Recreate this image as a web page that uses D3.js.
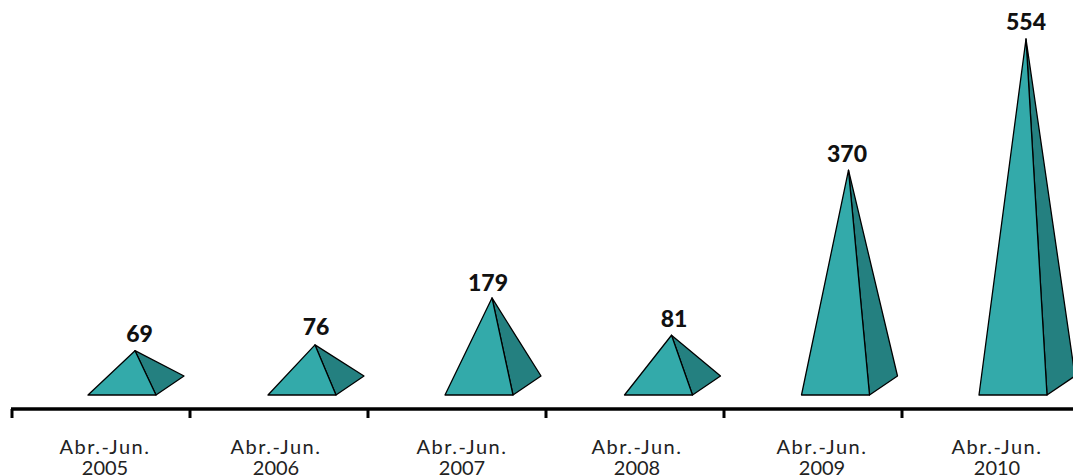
<!DOCTYPE html>
<html lang="en">
<head>
<meta charset="UTF-8">
<title>Abr.-Jun. 2005-2010</title>
<script src="https://d3js.org/d3.v7.min.js"></script>
<style>
    html, body { margin: 0; padding: 0; background: #fff; }
    svg { display: block; }
    text { font-family: Lato, "Open Sans", sans-serif; }
    .value { font-size: 23px; font-weight: 900; fill: #111; text-anchor: middle; }
    .tick text { font-size: 20px; fill: #222; }
    .tick .period { letter-spacing: 1.5px; }
    .front { fill: #33aaaa; stroke: #000; stroke-width: 1.3; stroke-linejoin: round; }
    .side { fill: #248080; stroke: #000; stroke-width: 1.3; stroke-linejoin: round; }
</style>
</head>
<body>
<div id="container"></div>
<script>
    // data
    const periods = ["Abr.-Jun.", "Abr.-Jun.", "Abr.-Jun.", "Abr.-Jun.", "Abr.-Jun.", "Abr.-Jun."];
    const years = ["2005", "2006", "2007", "2008", "2009", "2010"];
    const labels = [69, 76, 179, 81, 370, 554];
    // the picture does not draw the pyramids in proportion to their labels,
    // so these are the values read from the height of each pyramid
    const drawnValues = [69, 78, 151, 93, 350, 554];

    const width = 1073;
    const height = 476;
    const baseY = 395;
    const axisY = 409;
    const frontW = 68;   // front face width
    const depthX = 28;   // side face offset
    const depthY = 19;
    const pyramidLeft = 76.5; // from the band start

    // hand nudges, the original is not evenly spaced
    const pyramidShift = [-0.5, 1.5, 0.5, 2, 1, 0.5];
    const valueShiftX = [1.5, -2, -7, -0.5, -4.5, -3];
    const valueShiftY = [0, -1, 2, 1, 1, 0];
    const labelShift = [4, -3, 5, 2, 9, 6];

    const svg = d3.select("#container").append("svg")
        .attr("width", width)
        .attr("height", height);

    // SCALES
    const xScale = d3.scaleBand().domain(years).range([12, 1080]).padding(0);
    const yScale = d3.scaleLinear().domain([0, 554]).range([baseY, 39]);

    // PYRAMIDS
    const pyramids = svg.selectAll("g.pyramid")
        .data(years)
        .enter()
        .append("g")
        .attr("class", "pyramid");

    const left = function (d, i) { return xScale(d) + pyramidLeft + pyramidShift[i]; };
    const apex = function (d, i) {
        return [left(d, i) + (frontW + depthX) / 2 - 1, yScale(drawnValues[i])];
    };

    pyramids.append("path")
        .attr("class", "side")
        .attr("d", function (d, i) {
            const a = apex(d, i);
            const l = left(d, i);
            return d3.line()([a, [l + frontW + depthX, baseY - depthY], [l + frontW, baseY]]) + "Z";
        });

    pyramids.append("path")
        .attr("class", "front")
        .attr("d", function (d, i) {
            const a = apex(d, i);
            const l = left(d, i);
            return d3.line()([a, [l, baseY], [l + frontW, baseY]]) + "Z";
        });

    pyramids.append("text")
        .attr("class", "value")
        .attr("x", function (d, i) { return apex(d, i)[0] + 3 + valueShiftX[i]; })
        .attr("y", function (d, i) { return apex(d, i)[1] - 9 + valueShiftY[i]; })
        .text(function (d, i) { return labels[i]; });

    // AXIS
    const xaxis = d3.axisBottom(xScale).tickSize(0).tickPadding(0);
    const axisG = svg.append("g")
        .attr("transform", "translate(0," + axisY + ")")
        .call(xaxis);
    axisG.select(".domain").remove();

    axisG.selectAll(".tick text").each(function (d, i) {
        const t = d3.select(this).text(null).attr("y", 0).attr("dy", null);
        t.append("tspan").attr("class", "period").attr("x", labelShift[i]).attr("y", 45).text(periods[i]);
        t.append("tspan").attr("x", labelShift[i]).attr("y", 66).text(years[i]);
    });

    axisG.append("line")
        .attr("x1", 11).attr("x2", width)
        .attr("stroke", "#000").attr("stroke-width", 3.5);

    axisG.selectAll("line.mark")
        .data(years)
        .enter()
        .append("line")
        .attr("class", "mark")
        .attr("x1", function (d) { return xScale(d); })
        .attr("x2", function (d) { return xScale(d); })
        .attr("y1", 0).attr("y2", 9)
        .attr("stroke", "#000").attr("stroke-width", 3);
</script>
</body>
</html>
